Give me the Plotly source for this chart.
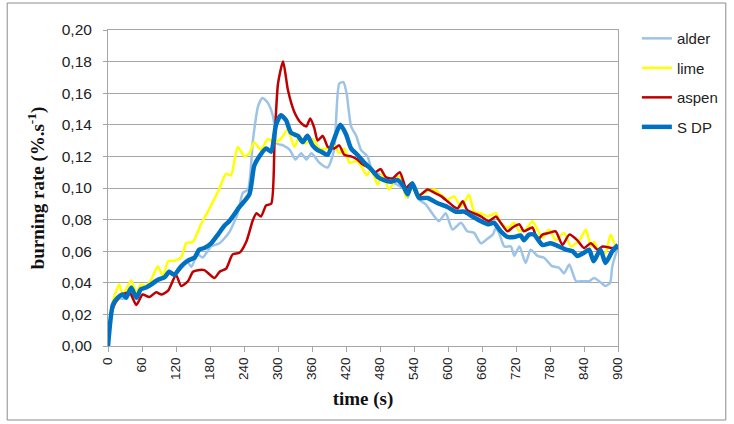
import plotly.graph_objects as go

# ---- data ----
t_alder = [0, 8.5, 17, 29, 41, 50, 58, 67, 76, 88, 100, 108, 117, 129, 141, 147, 158, 167, 182, 196.6,
           214, 229, 238, 247, 256, 265, 272.5, 282, 291.5, 298.5, 309, 321, 331, 341, 350, 359, 373,
           387.6, 399, 408, 415.5, 421, 429, 438, 446.5, 458, 467, 476, 487, 499, 511, 520, 529, 537,
           549, 561, 572, 584, 596, 608, 623, 634, 646, 658, 670, 679, 684.5, 690, 699.5, 711, 717,
           726, 737, 746, 758, 769, 784, 796, 805, 814, 826, 837, 849, 858, 870, 878, 886, 890, 900]
alder = [0, 0.026, 0.030, 0.030, 0.036, 0.031, 0.035, 0.037, 0.038, 0.041, 0.043, 0.046, 0.045, 0.049,
         0.053, 0.050, 0.058, 0.056, 0.063, 0.065, 0.072, 0.084, 0.097, 0.099, 0.131, 0.152, 0.157,
         0.154, 0.145, 0.128, 0.127, 0.124, 0.118, 0.122, 0.118, 0.122, 0.116, 0.113, 0.124, 0.166,
         0.167, 0.160, 0.139, 0.133, 0.124, 0.120, 0.110, 0.109, 0.107, 0.104, 0.102, 0.100, 0.094,
         0.103, 0.0926, 0.0895, 0.084, 0.079, 0.084, 0.0737, 0.078, 0.0726, 0.0716, 0.065, 0.068,
         0.0705, 0.0747, 0.0716, 0.063, 0.063, 0.057, 0.063, 0.0526, 0.061, 0.057, 0.056, 0.0505,
         0.0495, 0.046, 0.0516, 0.041, 0.041, 0.041, 0.043, 0.040, 0.038, 0.040, 0.0505, 0.063]

t_lime = [0, 8.5, 20, 26, 41, 50, 58, 67, 76, 88, 97, 106, 117, 129, 138, 150, 164, 173, 182, 196,
          208, 217, 229, 241, 249.5, 258, 270, 282, 294, 305, 317, 329, 338, 349, 361, 373, 387.6,
          399, 408, 417, 426, 438, 446.5, 457, 464, 476, 484, 496, 508, 517, 526, 537, 546, 552, 564,
          576, 587, 599, 611, 623, 637, 646, 658, 670, 684.5, 693, 705, 717, 726, 737, 749, 758,
          766.6, 778.5, 790, 805, 817, 832, 843.5, 852, 858, 867, 878, 887, 896, 900]
lime = [0, 0.028, 0.039, 0.0326, 0.0415, 0.0337, 0.039, 0.038, 0.042, 0.0505, 0.044, 0.0537, 0.054,
        0.056, 0.065, 0.066, 0.077, 0.083, 0.089, 0.099, 0.109, 0.108, 0.126, 0.120, 0.122, 0.129,
        0.124, 0.131, 0.129, 0.131, 0.137, 0.126, 0.133, 0.128, 0.131, 0.125, 0.125, 0.127, 0.122,
        0.125, 0.116, 0.117, 0.114, 0.108, 0.112, 0.102, 0.109, 0.099, 0.106, 0.107, 0.094, 0.103,
        0.094, 0.0958, 0.098, 0.099, 0.0958, 0.0926, 0.0947, 0.088, 0.0958, 0.085, 0.084, 0.082,
        0.084, 0.078, 0.0747, 0.078, 0.0726, 0.0737, 0.079, 0.0737, 0.0684, 0.0737, 0.067, 0.0716,
        0.063, 0.067, 0.0737, 0.063, 0.066, 0.059, 0.059, 0.0705, 0.063, 0.064]

t_aspen = [0, 5.6, 14, 26, 38, 50, 61, 73, 85, 94, 106, 120, 129, 141, 150, 159, 170, 188, 197,
           208.5, 220, 232, 244, 256, 262, 270, 279, 288, 294, 300, 309, 317.5, 329, 341, 350, 357,
           364, 370, 379, 388, 399, 408, 417, 429, 440, 449, 460, 472, 481, 490, 502, 515, 526, 535,
           546, 552, 564, 576, 587, 599, 611, 617, 626, 634, 646, 658, 672, 684.5, 693, 705, 714,
           726, 734, 749, 758, 766.6, 778.5, 790, 802, 814, 828, 840, 852, 864, 873, 890, 900]
aspen = [0, 0.020, 0.028, 0.0326, 0.034, 0.026, 0.0326, 0.031, 0.034, 0.0326, 0.035, 0.045, 0.038,
         0.041, 0.047, 0.048, 0.048, 0.043, 0.047, 0.049, 0.058, 0.059, 0.066, 0.080, 0.084, 0.082,
         0.089, 0.090, 0.130, 0.166, 0.180, 0.162, 0.148, 0.141, 0.139, 0.144, 0.138, 0.130, 0.133,
         0.126, 0.125, 0.127, 0.121, 0.120, 0.118, 0.115, 0.113, 0.110, 0.112, 0.107, 0.106, 0.110,
         0.100, 0.103, 0.095, 0.0958, 0.099, 0.097, 0.095, 0.0916, 0.088, 0.087, 0.0916, 0.086,
         0.084, 0.082, 0.079, 0.082, 0.078, 0.0726, 0.075, 0.077, 0.0726, 0.075, 0.067, 0.0705,
         0.0716, 0.0726, 0.064, 0.0705, 0.067, 0.062, 0.065, 0.061, 0.063, 0.062, 0.062]

t_sdp = [0, 8.5, 17, 26, 32, 41, 50, 58, 67, 76, 88, 100, 108, 117, 129, 141, 153, 161, 170, 182,
         194, 205, 214, 232, 249.5, 258, 267, 279, 288, 296.5, 305, 314, 323, 335, 343.5, 352, 361,
         370, 376, 387.6, 399, 410, 420, 429, 440, 452.5, 464, 476, 487, 499, 511, 521.6, 528.6,
         537, 549, 564, 581, 599, 614, 628.5, 643, 658, 672, 681, 693, 705, 717, 728, 734, 743, 752,
         766.6, 781, 796, 808, 820, 828, 840, 849, 857, 869, 878, 890, 900]
sdp = [0, 0.026, 0.0305, 0.0326, 0.0305, 0.037, 0.0305, 0.036, 0.037, 0.039, 0.042, 0.0436, 0.047,
       0.045, 0.0505, 0.054, 0.056, 0.061, 0.062, 0.065, 0.0705, 0.076, 0.079, 0.088, 0.096, 0.114,
       0.120, 0.125, 0.123, 0.140, 0.146, 0.143, 0.135, 0.133, 0.129, 0.133, 0.127, 0.124, 0.123,
       0.121, 0.131, 0.140, 0.134, 0.125, 0.121, 0.116, 0.112, 0.107, 0.105, 0.104, 0.105, 0.101,
       0.096, 0.103, 0.0937, 0.0937, 0.0905, 0.088, 0.085, 0.085, 0.082, 0.079, 0.077, 0.078,
       0.0726, 0.069, 0.069, 0.070, 0.067, 0.0705, 0.0705, 0.064, 0.065, 0.063, 0.061, 0.060,
       0.057, 0.059, 0.061, 0.0537, 0.061, 0.0526, 0.060, 0.064]

x_ticks = list(range(0, 901, 60))
x_ticklabels = [str(v) for v in x_ticks]
y_ticks = [i / 100 for i in range(0, 21, 2)]
y_ticklabels = ["0,%02d" % i for i in range(0, 21, 2)]

series = [
    ("alder", t_alder, alder, "#9DC3E6", 2.5),
    ("lime", t_lime, lime, "#FFFF00", 2.5),
    ("aspen", t_aspen, aspen, "#C00000", 2.5),
    ("S DP", t_sdp, sdp, "#0070C0", 4.5),
]

fig = go.Figure()
for name, t, v, col, w in series:
    fig.add_trace(go.Scatter(
        x=t, y=v, name=name, mode="lines", legendgroup=name,
        line=dict(color=col, width=w, shape="spline", smoothing=0.6),
    ))

grid_col = "#A6A6A6"
sans = "Liberation Sans, Arial"
serif = "Liberation Serif, Times New Roman"
fig.update_layout(
    width=734, height=424,
    margin=dict(l=108, r=115, t=30, b=78),
    paper_bgcolor="white", plot_bgcolor="white",
    font=dict(family=sans, size=12, color="#222222"),
    showlegend=True,
    legend=dict(x=1.035, y=1.025, xanchor="left", yanchor="top",
                font=dict(size=15, family=sans, color="#222222"),
                tracegroupgap=7, bgcolor="rgba(0,0,0,0)"),
    xaxis=dict(range=[0, 900], tickvals=x_ticks, ticktext=x_ticklabels, tickangle=-90,
               showgrid=False, zeroline=False, showline=True, linecolor=grid_col, linewidth=1,
               mirror=True, ticks="outside", ticklen=5, tickcolor=grid_col,
               tickfont=dict(size=13.5, family=sans, color="#222222"),
               title=dict(text="<b>time (s)</b>", standoff=12,
                          font=dict(family=serif, size=19, color="#111111"))),
    yaxis=dict(range=[0, 0.2], tickvals=y_ticks, ticktext=y_ticklabels,
               showgrid=True, gridcolor=grid_col, gridwidth=1, zeroline=False,
               showline=True, linecolor=grid_col, linewidth=1, mirror=True,
               ticks="outside", ticklen=4, tickcolor=grid_col, ticklabelstandoff=8,
               tickfont=dict(size=15.5, family=sans, color="#222222"),
               title=dict(text="<b>burning rate (%.s<sup>-1</sup>)</b>", standoff=12,
                          font=dict(family=serif, size=19, color="#111111"))),
)

# outer chart border
fig.add_shape(type="rect", xref="paper", yref="paper",
              x0=(7 - 108) / 511, x1=(727 - 108) / 511,
              y0=(346 - 420) / 316, y1=(346 - 3) / 316,
              line=dict(color="#8C8C8C", width=1), layer="below")

fig.write_html("out.html")
